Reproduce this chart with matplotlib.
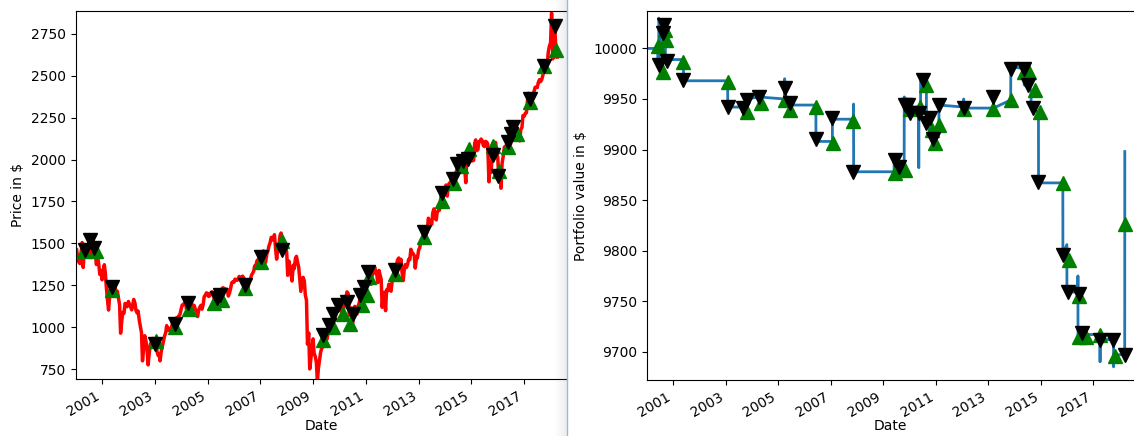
import numpy as np
import pandas as pd
import matplotlib
matplotlib.use("Agg")
from matplotlib import pyplot as plt
from matplotlib.ticker import FixedLocator
import matplotlib.dates as mdates
from matplotlib.patches import Rectangle

# S&P 500 close, sampled on the 1st and 15th of each month (2000-01 .. 2018-04)
price = [
    1455, 1465, 1409, 1388, 1380, 1440, 1505, 1357, 1468, 1452, 1448, 1478, 1469, 1495, 1438, 1484, 1520, 1465, 1436, 1374, 1421, 1382, 1315, 1340,  # 2000
    1283, 1326, 1373, 1326, 1241, 1173, 1103, 1183, 1266, 1250, 1260, 1214, 1236, 1208, 1215, 1178, 1133, 965, 1038, 1089, 1084, 1142, 1139, 1123,  # 2001
    1154, 1138, 1122, 1104, 1131, 1166, 1146, 1102, 1086, 1097, 1040, 1007, 968, 800, 884, 950, 916, 870, 776, 841, 900, 909, 934, 890,  # 2002
    909, 931, 856, 834, 841, 800, 858, 885, 916, 946, 968, 1010, 982, 994, 980, 990, 1021, 1014, 1018, 1049, 1058, 1050, 1070, 1075,  # 2003
    1108, 1132, 1135, 1145, 1149, 1107, 1132, 1128, 1117, 1088, 1122, 1133, 1129, 1106, 1099, 1064, 1105, 1120, 1131, 1108, 1135, 1183, 1191, 1205,  # 2004
    1202, 1184, 1189, 1206, 1211, 1198, 1173, 1142, 1162, 1185, 1202, 1206, 1211, 1228, 1236, 1233, 1221, 1227, 1226, 1186, 1205, 1231, 1265, 1271,  # 2005
    1268, 1287, 1282, 1280, 1291, 1303, 1297, 1289, 1305, 1294, 1285, 1223, 1270, 1236, 1278, 1285, 1311, 1321, 1334, 1366, 1367, 1396, 1396, 1427,  # 2006
    1416, 1431, 1445, 1456, 1403, 1387, 1437, 1452, 1486, 1502, 1536, 1532, 1519, 1552, 1465, 1406, 1473, 1484, 1547, 1562, 1508, 1452, 1481, 1486,  # 2007
    1447, 1310, 1395, 1350, 1331, 1276, 1370, 1350, 1409, 1423, 1385, 1360, 1284, 1214, 1260, 1298, 1277, 1192, 1161, 899, 966, 752, 816, 868,  # 2008
    931, 843, 825, 789, 676, 756, 811, 852, 877, 882, 942, 923, 923, 932, 987, 1005, 998, 1052, 1029, 1096, 1045, 1093, 1108, 1107,  # 2009
    1133, 1136, 1089, 1094, 1115, 1150, 1178, 1211, 1202, 1074, 1070, 1115, 1022, 1096, 1125, 1079, 1080, 1125, 1146, 1176, 1185, 1197, 1206, 1241,  # 2010
    1271, 1293, 1307, 1332, 1306, 1256, 1332, 1320, 1361, 1337, 1315, 1266, 1339, 1316, 1286, 1119, 1204, 1209, 1099, 1224, 1218, 1257, 1244, 1215,  # 2011
    1277, 1293, 1324, 1350, 1374, 1402, 1413, 1370, 1405, 1330, 1278, 1342, 1374, 1357, 1375, 1405, 1404, 1465, 1444, 1440, 1427, 1353, 1416, 1413,  # 2012
    1462, 1472, 1513, 1520, 1518, 1560, 1562, 1552, 1582, 1650, 1631, 1626, 1614, 1682, 1706, 1661, 1640, 1688, 1695, 1698, 1762, 1798, 1800, 1781,  # 2013
    1831, 1848, 1782, 1838, 1859, 1841, 1885, 1842, 1883, 1870, 1924, 1936, 1973, 1973, 1925, 1955, 2003, 1984, 1946, 1862, 2018, 2039, 2053, 1990,  # 2014
    2058, 1992, 1995, 2096, 2117, 2053, 2059, 2106, 2108, 2122, 2111, 2084, 2077, 2108, 2104, 2092, 1867, 1978, 1923, 2023, 2104, 2023, 2102, 2043,  # 2015
    2012, 1880, 1939, 1829, 1978, 2015, 2073, 2080, 2081, 2047, 2099, 2072, 2103, 2161, 2171, 2190, 2170, 2147, 2161, 2133, 2111, 2180, 2191, 2262,  # 2016
    2258, 2275, 2279, 2349, 2395, 2385, 2362, 2328, 2388, 2402, 2430, 2432, 2429, 2459, 2476, 2464, 2477, 2500, 2529, 2557, 2579, 2565, 2642, 2675,  # 2017
    2696, 2873, 2600, 2730, 2790, 2650, 2610,  # 2018
]
price_dates = pd.date_range("2000-01-01", periods=len(price), freq="SMS")

# trade signals on the price chart
buy_dates = ["2000-04-20", "2000-10-05", "2001-05-20", "2003-01-15", "2003-10-01", "2004-04-15",
             "2005-03-25", "2005-07-20", "2006-06-05", "2007-01-15", "2007-10-25", "2009-05-20",
             "2009-10-10", "2010-02-25", "2010-06-01", "2010-11-05", "2011-01-15", "2011-02-10",
             "2012-02-10", "2013-03-15", "2013-11-20", "2014-05-01", "2014-08-10", "2014-12-01",
             "2015-11-01", "2016-01-20", "2016-05-20", "2016-09-20", "2017-03-25", "2017-10-01",
             "2018-03-15"]
buy_price = [1452, 1452, 1222, 920, 1002, 1112, 1142, 1162, 1232, 1392, 1512, 925,
             1000, 1082, 1022, 1132, 1192, 1300, 1320, 1540, 1752, 1862, 1960, 2062,
             2082, 1932, 2072, 2152, 2342, 2560, 2652]

sell_dates = ["2000-05-15", "2000-07-22", "2000-09-05", "2001-05-18", "2003-01-10", "2003-10-01",
              "2004-04-10", "2005-05-12", "2005-06-25", "2006-06-05", "2007-01-12", "2007-10-28",
              "2009-05-22", "2009-08-15", "2009-10-10", "2009-12-15", "2010-04-12", "2010-07-12",
              "2010-10-12", "2010-12-10", "2011-02-05", "2012-02-10", "2013-03-18", "2013-11-18",
              "2014-04-25", "2014-06-20", "2014-09-01", "2014-11-20", "2015-10-25", "2016-01-08",
              "2016-05-25", "2016-06-28", "2016-08-05", "2017-03-20", "2017-10-01", "2018-03-03"]
sell_price = [1462, 1522, 1472, 1242, 902, 1022, 1142, 1172, 1192, 1252, 1422, 1462,
              954, 1012, 1082, 1132, 1152, 1082, 1192, 1242, 1332, 1342, 1566, 1802,
              1882, 1972, 1992, 2002, 2026, 1902, 2102, 2152, 2192, 2362, 2556, 2796]

# portfolio total value
pf_dates = ["2000-01-03", "2000-06-01", "2000-06-02", "2000-06-15", "2000-06-16", "2000-08-10",
            "2000-08-11", "2000-08-25", "2000-08-26", "2000-09-15", "2000-09-16", "2000-10-12",
            "2001-05-25", "2001-05-26", "2003-01-30", "2003-01-31", "2003-09-01", "2003-10-20",
            "2003-10-21", "2004-04-05", "2005-04-01", "2005-04-02", "2005-04-05", "2006-06-10",
            "2006-06-11", "2007-01-25", "2007-01-26", "2007-11-15", "2007-11-16", "2007-11-17",
            "2009-06-01", "2009-06-02", "2009-08-10", "2009-10-20", "2009-10-21", "2010-01-05",
            "2010-01-06", "2010-05-10", "2010-05-11", "2010-05-12", "2010-06-05", "2010-06-06",
            "2010-08-25", "2010-08-26", "2010-10-05", "2010-10-06", "2010-12-01", "2010-12-02",
            "2011-02-15", "2011-02-16", "2012-01-25", "2012-01-26", "2012-01-27", "2013-03-15",
            "2013-03-16", "2013-03-17", "2013-11-10", "2013-11-11", "2014-05-15", "2014-05-16",
            "2014-08-20", "2014-08-21", "2014-12-01", "2014-12-02", "2015-11-05", "2015-11-06",
            "2015-12-31", "2016-01-01", "2016-06-01", "2016-06-02", "2016-06-03", "2017-04-05",
            "2017-04-06", "2017-04-07", "2017-10-10", "2017-10-11", "2017-10-12", "2018-03-15",
            "2018-03-16"]
pf_value = [10000, 10000, 9984, 9984, 10030, 9977,
            10015, 10015, 10023, 10023, 9988, 9989,
            9989, 9968, 9968, 9942, 9942, 9937,
            9950, 9952, 9950, 9970, 9944, 9944,
            9908, 9908, 9930, 9930, 9945, 9878,
            9878, 9890, 9883, 9880, 9952, 9944,
            9936, 9936, 9882, 9940, 9940, 9969,
            9964, 9926, 9931, 9919, 9910, 9906,
            9924, 9944, 9942, 9950, 9941, 9941,
            9952, 9941, 9949, 9982, 9980, 9964,
            9959, 9941, 9937, 9867, 9867, 9796,
            9806, 9759, 9759, 9775, 9717, 9717,
            9690, 9712, 9712, 9685, 9697, 9697,
            9898]

pf_buy_dates = ["2000-06-05", "2000-08-10", "2000-09-12", "2000-09-20", "2001-05-25", "2003-01-30",
                "2003-10-20", "2004-05-10", "2005-04-01", "2005-06-15", "2006-06-18", "2007-02-05",
                "2007-11-15", "2009-06-12", "2009-10-25", "2010-01-10", "2010-05-30", "2010-08-25",
                "2010-11-05", "2010-12-25", "2011-02-18", "2012-01-25", "2013-03-15", "2013-11-10",
                "2014-05-15", "2014-07-20", "2014-10-15", "2014-12-20", "2015-11-05", "2016-01-25",
                "2016-06-10", "2016-06-12", "2016-09-20", "2017-04-05", "2017-10-25", "2018-03-15"]
pf_buy_value = [10002, 9977, 10018, 10008, 9987, 9967, 9937, 9946, 9949, 9939, 9942, 9906,
                9928, 9877, 9880, 9940, 9942, 9964, 9919, 9906, 9924, 9940, 9940, 9949,
                9977, 9977, 9959, 9937, 9867, 9791, 9755, 9715, 9715, 9717, 9696, 9826]

pf_sell_dates = ["2000-06-20", "2000-08-10", "2000-08-28", "2000-10-12", "2001-05-25", "2003-01-30",
                 "2003-09-01", "2003-10-20", "2004-04-05", "2005-04-05", "2005-06-10", "2006-06-10",
                 "2007-01-22", "2007-11-15", "2009-06-20", "2009-08-10", "2009-10-25", "2009-12-15",
                 "2010-01-08", "2010-05-15", "2010-07-05", "2010-08-25", "2010-10-12", "2010-12-01",
                 "2011-02-18", "2012-01-25", "2013-03-15", "2013-11-10", "2014-05-15", "2014-07-05",
                 "2014-09-20", "2014-12-01", "2015-11-05", "2016-01-10", "2016-06-15", "2016-08-01",
                 "2017-04-05", "2017-10-01", "2018-03-15"]
pf_sell_value = [9984, 10015, 10023, 9988, 9969, 9942, 9941, 9949, 9952, 9961, 9946, 9910,
                 9931, 9878, 9890, 9883, 9944, 9944, 9936, 9936, 9969, 9926, 9931, 9910,
                 9944, 9941, 9952, 9980, 9980, 9964, 9941, 9868, 9796, 9759, 9757, 9719,
                 9712, 9712, 9697]

odd_years = [pd.Timestamp(f"{y}-01-01") for y in range(2001, 2019, 2)]

fig = plt.figure(figsize=(11.34, 4.36), dpi=100)

ax1 = fig.add_axes([0.0668, 0.130, 0.4333, 0.8447], ylabel="Price in $")
ax1.plot(price_dates, price, color="r", lw=2.5)
ax1.plot(pd.to_datetime(buy_dates), buy_price, "^", markersize=10, color="g")
ax1.plot(pd.to_datetime(sell_dates), sell_price, "v", markersize=10, color="k")
ax1.set_xlim(pd.Timestamp("2000-01-03"), pd.Timestamp("2018-08-18"))
ax1.set_ylim(690, 2885)

ax2 = fig.add_axes([0.5705, 0.1284, 0.4295, 0.8463], ylabel="Portfolio value in $")
ax2.plot(pd.to_datetime(pf_dates), pf_value, lw=2.)
ax2.plot(pd.to_datetime(pf_buy_dates), pf_buy_value, "^", markersize=10, color="g")
ax2.plot(pd.to_datetime(pf_sell_dates), pf_sell_value, "v", markersize=10, color="k")
ax2.set_xlim(pd.Timestamp("2000-01-03"), pd.Timestamp("2018-07-22"))
ax2.set_ylim(9672, 10037)

for ax in (ax1, ax2):
    ax.set_xlabel("Date", labelpad=0)
    ax.xaxis.set_major_locator(FixedLocator(mdates.date2num(odd_years)))
    ax.xaxis.set_major_formatter(mdates.DateFormatter("%Y"))
    ax.spines["right"].set_visible(False)
    plt.setp(ax.get_xticklabels(), rotation=30, ha="right")

# panel divider with its shadow
for i in range(12):
    fig.add_artist(Rectangle(((555 + i) / 1134, 0), 1 / 1134, 1, transform=fig.transFigure,
                             color="0.5", alpha=0.012 * (i + 1), lw=0))
fig.add_artist(plt.Line2D([567 / 1134, 567 / 1134], [0, 1], transform=fig.transFigure,
                          color="#8fbce6", lw=1))

fig.savefig("out.png", dpi=100)
